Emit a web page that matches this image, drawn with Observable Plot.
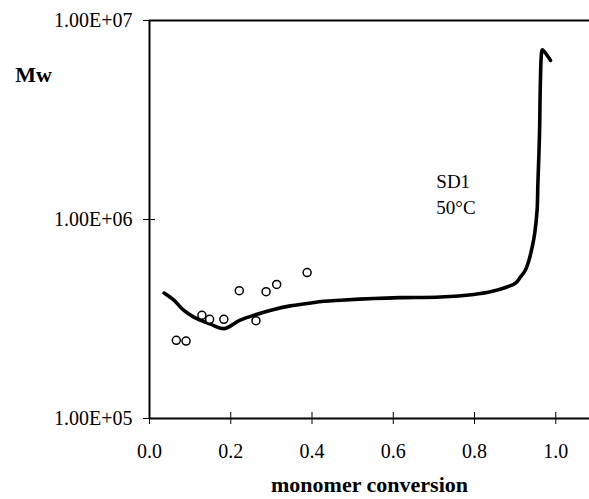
<!DOCTYPE html>
<html>
<head>
<meta charset="utf-8">
<script src="https://cdn.jsdelivr.net/npm/d3@7"></script>
<script src="https://cdn.jsdelivr.net/npm/@observablehq/plot@0.6"></script>
<style>
  html, body { margin: 0; padding: 0; background: #fff; }
</style>
</head>
<body>
<div id="chart"></div>
<script>
// Model curve (SD1, 50°C): monomer conversion vs Mw
const modelConversion = [0.036, 0.060, 0.084, 0.108, 0.125, 0.150, 0.184, 0.223, 0.265, 0.306, 0.347, 0.388, 0.429, 0.470, 0.552, 0.617, 0.716, 0.798, 0.839, 0.880, 0.901, 0.913, 0.925, 0.934, 0.942, 0.948, 0.954, 0.956, 0.960, 0.962, 0.965, 0.967, 0.979, 0.987];
const modelMw = [4.27e5, 3.93e5, 3.50e5, 3.24e5, 3.12e5, 2.98e5, 2.83e5, 3.12e5, 3.34e5, 3.53e5, 3.68e5, 3.78e5, 3.88e5, 3.93e5, 4.01e5, 4.05e5, 4.08e5, 4.20e5, 4.33e5, 4.58e5, 4.79e5, 5.14e5, 5.56e5, 6.24e5, 7.28e5, 8.48e5, 1.11e6, 1.52e6, 2.70e6, 4.80e6, 6.90e6, 7.13e6, 6.67e6, 6.30e6];

// Experimental points
const expConversion = [0.066, 0.090, 0.129, 0.148, 0.183, 0.221, 0.262, 0.287, 0.313, 0.388];
const expMw = [2.47e5, 2.45e5, 3.30e5, 3.15e5, 3.15e5, 4.39e5, 3.10e5, 4.34e5, 4.72e5, 5.41e5];

// Axis ticks and labels
const xTicks = [0, 0.2, 0.4, 0.6, 0.8, 1.0];
const xTickLabels = ["0.0", "0.2", "0.4", "0.6", "0.8", "1.0"];
const yTicks = [1e5, 1e6, 1e7];
const yTickLabels = ["1.00E+05", "1.00E+06", "1.00E+07"];

// Texts
const yTitle = "Mw";
const xTitle = "monomer conversion";
const annotationText = ["SD1", "50°C"];
const annotationX = [0.706, 0.706];
const annotationY = [1.545e6, 1.144e6];

const model = modelConversion.map((x, i) => ({x, y: modelMw[i]}));
const exp = expConversion.map((x, i) => ({x, y: expMw[i]}));
const notes = annotationText.map((t, i) => ({t, x: annotationX[i], y: annotationY[i]}));

const chart = Plot.plot({
  width: 589,
  height: 499,
  marginLeft: 149,
  marginRight: 0,
  marginTop: 20,
  marginBottom: 81,
  style: {fontFamily: "'Liberation Serif', 'Times New Roman', serif", fontSize: "20px", color: "#000", background: "#fff"},
  x: {domain: [0, 1.083], label: null},
  y: {type: "log", domain: [1e5, 1e7], label: null},
  marks: [
    // crossing tick marks
    Plot.axisX({ticks: xTicks, tickSize: 12, dy: -6, tickFormat: () => "", label: null, strokeWidth: 1}),
    Plot.axisY({ticks: yTicks, tickSize: 12, dx: 6, tickFormat: () => "", label: null, strokeWidth: 1}),
    // tick labels
    Plot.axisX({ticks: xTicks, tickSize: 0, tickPadding: 25, tickFormat: (d) => xTickLabels[xTicks.indexOf(d)], label: null, fontSize: 20}),
    Plot.axisY({ticks: yTicks, tickSize: 0, tickPadding: 17, tickFormat: (d) => yTickLabels[yTicks.indexOf(d)], label: null, fontSize: 20}),
    // frame lines
    Plot.ruleX([0], {stroke: "#000", strokeWidth: 2}),
    Plot.ruleY([1e5], {stroke: "#000", strokeWidth: 2}),
    Plot.ruleY([1e7], {stroke: "#000", strokeWidth: 2}),
    // model curve
    Plot.line(model, {x: "x", y: "y", curve: "catmull-rom", stroke: "#000", strokeWidth: 3.6, strokeLinejoin: "round", strokeLinecap: "round"}),
    // experimental points
    Plot.dot(exp, {x: "x", y: "y", r: 4, stroke: "#000", strokeWidth: 1.5, fill: "#fff"}),
    // annotation
    Plot.text(notes, {x: "x", y: "y", text: "t", textAnchor: "start", fontSize: 19, fill: "#000"}),
    // axis titles
    Plot.text([yTitle], {frameAnchor: "top-left", dx: -116, dy: 46, fontSize: 22, fontWeight: "bold", textAnchor: "middle", fill: "#000"}),
    Plot.text([xTitle], {frameAnchor: "bottom", dy: 73, fontSize: 22, fontWeight: "bold", fill: "#000"})
  ]
});
document.getElementById("chart").appendChild(chart);
</script>
</body>
</html>
